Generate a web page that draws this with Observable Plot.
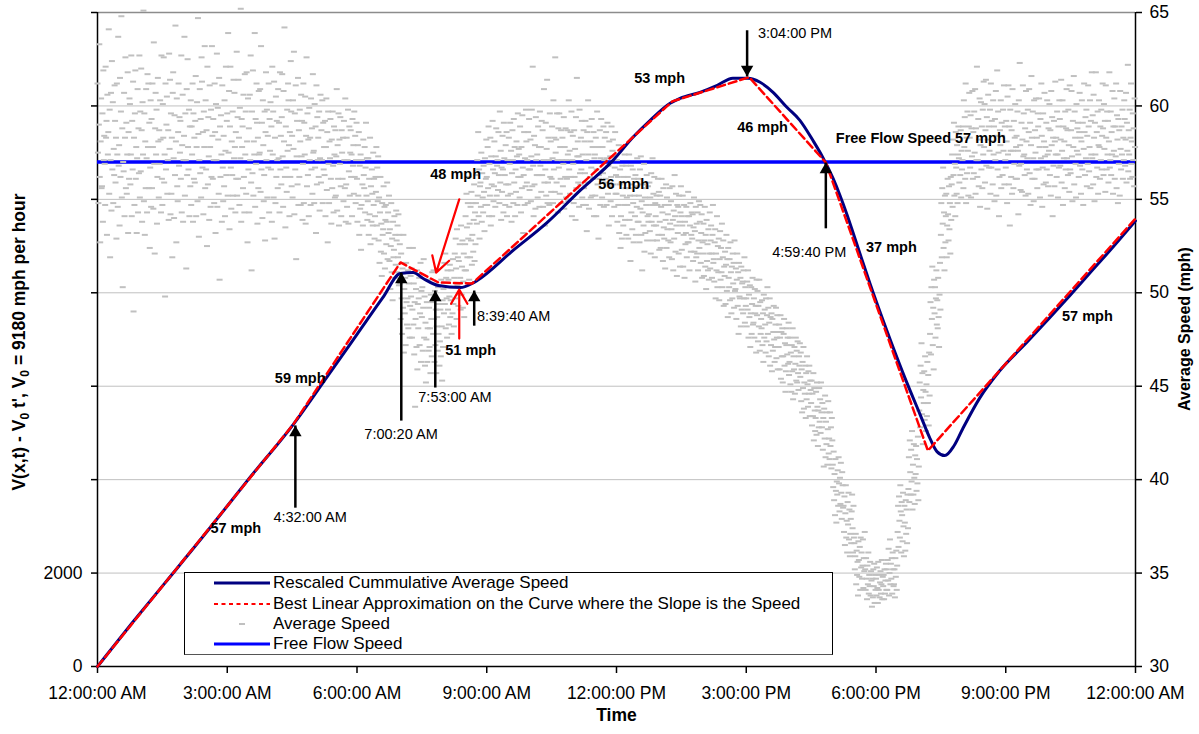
<!DOCTYPE html>
<html><head><meta charset="utf-8">
<script src="https://cdn.jsdelivr.net/npm/d3@7"></script>
<script src="https://cdn.jsdelivr.net/npm/@observablehq/plot@0.6"></script>
<style>
body{margin:0;background:#fff;font-family:"Liberation Sans",Arial,sans-serif;}
#wrap{position:relative;width:1199px;height:734px;overflow:hidden;}
#legend{position:absolute;left:184px;top:572px;width:647px;height:81px;border:1px solid #000;border-bottom-color:#555;background:#fff;}
.row{position:absolute;left:0;width:640px;height:20px;font-size:17px;line-height:20px;white-space:nowrap;}
.row svg{position:absolute;left:29px;top:0;}
.row span{position:absolute;left:88px;top:0;}
</style></head><body><div id="wrap"></div>
<script>
// ---------- data ----------
const hourTicks = [0, 3, 6, 9, 12, 15, 18, 21, 24];
const hourLabels = ["12:00:00 AM","3:00:00 AM","6:00:00 AM","9:00:00 AM","12:00:00 PM","3:00:00 PM","6:00:00 PM","9:00:00 PM","12:00:00 AM"];
const speedTicks = [30, 35, 40, 45, 50, 55, 60, 65];
const leftTickLabels = ["0", "2000", "", "", "", "", "", ""]; // rescaled V at each gridline (0..14000)
const freeFlowSpeed = 57;

// Rescaled cumulative average speed curve (hours, V - V0 t')
const cumT = [0,0.8,1.571,2.542,3.466,4.533,5.3,6.0,6.6,7.0,7.30,7.53,7.88,8.39,8.66,8.78,9.61,10.40,11.16,11.92,12.38,12.78,13.24,13.47,13.93,14.33,14.69,15.04,15.32,15.62,15.94,16.24,16.54,16.77,17.01,17.17,17.33,17.47,17.63,17.86,18.25,18.62,19.02,19.25,19.41,19.59,19.80,20.0,20.4,20.86,21.5,22.0,22.5,23.0,23.5,24.0];
const cumV = [0,930,1800,2900,3980,5190,6190,7110,7900,8412,8434,8306,8156,8113,8199,8263,8906,9506,10192,10835,11328,11692,12056,12163,12292,12442,12592,12592,12506,12292,11971,11692,11264,10899,10442,10078,9671,9285,8835,8199,7192,6292,5393,4879,4600,4515,4720,5080,5750,6330,6950,7450,7960,8480,9000,9540];

// Best linear approximation (breakpoints)
const fitT = [0, 4.533, 7.006, 7.883, 8.661, 13.29, 15.067, 16.84, 19.2, 24];
const fitV = [0, 5192, 8650, 8220, 8199, 12097, 12614, 10788, 4620, 9588];

// Average speed observations, 15-minute blocks (mph x10), first pass of readings
const speedBins = [
"612 575 548 590 633 562 527 581 604 556 557 596 538 619 571 584","586 641 553 598 519 571 607 544 624 566 602 548 577 563 611 592",
"579 536 615 562 597 648 551 588 503 570 565 607 541 583 626 556","601 558 574 627 541 592 566 613 490 583 547 596 619 561 578 532",
"565 620 587 538 602 574 651 549 596 531 581 556 609 572 543 617","593 556 612 578 545 634 569 521 588 607 574 598 537 562 615 581",
"547 601 583 626 559 574 498 612 566 590 605 553 571 587 539 628","618 572 540 595 563 643 581 527 604 557 549 586 612 568 594 575",
"584 637 552 596 571 513 609 563 625 578 566 598 541 589 557 603","559 592 616 541 578 602 549 647 585 530 571 609 564 593 551 626",
"603 566 587 525 621 558 594 573 539 611 578 546 598 562 632 584","571 628 546 599 582 553 615 507 589 562 595 574 538 611 567 549",
"596 552 639 575 608 534 589 621 567 545 581 563 597 552 614 572","561 614 583 547 599 572 652 538 593 578 589 556 606 562 543 617",
"588 543 606 571 627 559 512 597 564 619 552 581 574 639 546 593","575 609 554 632 566 591 540 603 579 549 563 597 528 586 618 571",
"602 566 589 538 621 574 597 551 613 529 583 548 605 562 592 571","558 594 617 573 546 608 581 642 562 535 589 567 554 598 576 612",
"584 551 603 577 629 542 596 566 611 518 573 592 558 615 547 587","569 612 548 591 574 605 537 584 626 557 596 563 582 541 599 571",
"576 548 601 567 589 532 611 558 594 571 583 562 597 544 572 606","563 592 541 578 604 555 586 527 597 569 548 581 572 593 561 537",
"587 552 573 609 544 579 561 596 536 582 569 594 557 541 587 575","558 583 546 571 598 537 565 589 552 575 587 562 574 541 593 568",
"561 538 579 552 586 531 568 545 574 523 547 571 558 536 582 563","549 572 531 561 542 583 526 557 538 566 553 536 575 547 561 529",
"528 551 516 543 562 522 537 509 548 531 534 557 521 546 513 539","517 534 502 525 548 511 529 496 538 519 523 541 508 531 515 544",
"505 486 521 497 478 513 492 531 468 502 489 508 472 516 495 483","498 513 476 491 524 483 505 467 495 439 486 502 471 512 459 494",
"487 503 469 492 518 476 498 461 484 452 475 495 463 481 507 469","495 478 512 486 463 501 472 491 457 482 487 469 503 478 494 461",
"502 489 516 494 521 481 508 497 476 512 491 507 483 498 515 487","508 521 497 529 513 486 534 504 519 493 517 499 526 508 491 536",
"526 541 512 553 535 519 548 529 562 507 537 519 546 528 554 515","548 563 537 571 552 586 541 566 529 557 559 546 575 538 564 551",
"562 547 578 556 589 541 569 552 583 536 573 558 541 592 566 549","571 555 586 563 548 597 559 576 539 567 554 584 566 543 591 572",
"558 583 546 569 591 553 576 538 564 587 571 548 593 559 578 541","574 551 589 562 543 578 556 595 567 532 563 586 547 572 557 598",
"566 582 549 573 598 557 621 568 541 584 558 579 545 594 571 563","578 554 592 563 587 546 571 609 559 536 566 591 552 577 614 548",
"561 589 572 548 603 566 583 554 626 575 582 559 596 571 543 588","583 557 569 594 545 578 562 588 551 571 561 587 574 549 603 566",
"569 548 587 562 577 539 594 556 615 573 581 559 573 546 598 564","556 581 564 592 547 571 533 586 559 603 574 545 589 562 581 551",
"574 552 583 541 566 597 558 578 529 563 561 587 547 572 593 556","561 586 547 572 591 553 568 536 581 557 573 549 562 589 541 576",
"553 571 538 562 547 579 532 558 566 524 541 559 529 568 552 536","547 562 529 556 574 539 552 517 568 543 558 534 566 548 527 561",
"561 538 552 527 566 545 573 531 549 512 543 558 536 569 522 551","542 559 533 551 521 564 538 547 572 528 553 536 562 519 548 541",
"538 552 524 546 561 531 543 517 556 535 529 547 513 539 558 524","527 549 534 518 557 539 512 544 529 563 541 522 553 536 509 547",
"541 523 536 552 514 531 547 508 538 526 532 546 519 541 527 554","529 542 517 535 551 522 533 506 546 519 537 521 543 512 528 549",
"521 537 509 528 546 514 531 502 539 517 526 512 534 507 521 543","518 506 527 534 497 521 512 541 503 525 511 529 496 518 533 507",
"509 522 494 515 531 501 518 487 524 508 503 518 496 527 511 489","502 513 486 507 521 493 511 478 516 498 497 508 482 514 491 505",
"497 482 506 491 512 476 499 487 504 471 489 503 478 494 508 483","488 501 474 493 482 507 469 495 478 486 481 496 472 489 463 499",
"478 492 466 484 497 461 487 472 489 458 486 469 479 493 475 463","471 483 459 476 488 454 479 466 481 452 466 478 486 461 473 447",
"463 476 451 468 447 472 458 481 443 466 459 471 446 462 476 453","455 468 442 459 436 463 449 471 438 452 446 461 433 457 443 466",
"441 453 429 446 434 457 421 449 437 426 433 447 424 452 439 418","428 441 416 433 407 438 422 445 412 431 419 436 408 427 442 414",
"408 396 415 389 403 381 411 394 377 399 392 405 386 412 398 383","386 372 391 365 382 397 369 378 361 388 376 393 368 384 359 371",
"366 352 359 371 344 362 349 356 338 367 357 348 364 341 369 353","352 341 358 347 336 354 344 361 339 349 343 356 338 351 346 332",
"347 338 353 342 334 356 341 349 337 345 351 339 344 357 336 348","352 341 357 346 363 338 350 368 344 355 347 358 339 361 352 343",
"372 386 364 391 378 369 397 383 361 388 381 367 393 375 359 386","395 412 388 421 404 392 416 399 426 384 408 392 419 401 387 413",
"437 452 428 461 444 473 435 457 419 448 441 458 432 466 447 426","478 495 467 503 486 514 472 492 459 507 489 503 476 497 512 483",
"531 548 519 556 537 567 524 543 512 552 527 541 553 519 536 561","558 574 546 582 563 591 552 569 541 586 567 553 579 548 574 589",
"571 589 556 603 578 594 561 612 548 583 564 597 576 552 589 607","586 564 597 575 609 553 588 571 621 562 571 593 557 582 604 546",
"578 601 559 587 614 568 594 545 582 606 589 567 576 598 553 612","593 571 608 552 584 619 566 597 575 541 562 587 579 603 556 591",
"567 592 581 548 605 574 611 558 589 536 598 576 562 587 553 609","584 561 597 576 542 603 568 623 579 555 569 591 554 582 611 573",
"572 598 553 586 609 564 591 547 579 616 583 561 597 572 549 603","589 566 604 578 551 593 572 612 584 546 567 596 558 581 607 573",
"576 601 563 587 552 608 579 594 541 583 568 592 557 581 613 574","593 568 582 614 559 576 603 547 589 572 581 556 597 566 588 609",
"564 587 608 573 549 592 578 616 558 597 583 569 551 601 576 588","581 603 566 591 547 577 612 586 563 594 572 598 557 584 569 611",
"572 595 558 606 583 549 591 574 618 562 586 567 597 553 579 603","588 563 601 577 592 554 611 583 566 597 574 592 559 581 618 567",
"576 604 561 589 573 612 556 595 582 548 593 569 587 552 608 577","593 568 582 607 559 591 576 622 565 587 574 598 561 583 612 569"
];
// second pass of readings for the same 15-minute blocks (mph x10)
const speedBins2 = [
"569 547 621 583 592 531 606 574","559 583 529 612 574 546 637 568","591 553 574 618 532 586 561 604","572 609 543 588 564 627 551 597",
"578 612 556 591 524 567 603 546","551 587 569 603 582 543 627 561","577 614 542 596 553 583 519 607","592 561 627 543 579 606 538 571",
"547 589 574 612 538 596 561 583","613 567 586 542 597 578 632 556","561 593 571 548 612 586 532 601","584 557 603 541 576 621 563 592",
"607 578 543 586 561 629 552 594","574 597 553 618 581 527 604 566","569 612 591 537 583 556 608 574","598 551 584 567 612 543 593 576",
"556 609 572 591 543 618 566 584","603 579 541 586 562 624 597 557","562 598 581 547 606 573 592 539","583 547 604 566 588 553 617 575",
"559 587 571 603 548 591 566 578","582 556 597 568 543 589 574 551","561 583 549 592 571 556 604 538","579 553 597 562 584 548 571 591",
"556 578 543 567 591 552 572 539","541 562 554 578 536 567 549 573","547 526 538 559 518 543 532 552","528 511 536 519 542 504 531 526",
"497 512 481 505 524 476 493 509","481 497 508 472 489 516 463 501","492 471 481 457 499 486 466 511","474 491 466 507 482 453 496 471",
"496 512 478 503 489 518 494 482","499 514 528 492 506 521 487 512","531 548 522 539 558 517 543 526","543 568 554 533 572 547 561 582",
"557 581 564 546 573 588 552 568","563 547 579 558 586 541 571 552","566 554 581 573 547 596 562 577","581 559 571 548 586 566 593 555",
"574 551 589 563 578 546 597 568","559 583 571 547 596 562 581 554","567 596 553 578 561 587 548 571","576 553 586 562 597 541 571 584",
"558 583 566 592 551 574 547 587","567 593 552 578 561 586 541 572","551 578 564 589 546 571 583 559","582 558 573 546 567 586 553 563",
"562 547 574 539 556 568 531 551","552 541 563 531 557 546 572 538","532 556 547 563 528 541 557 538","536 552 528 547 561 531 554 523",
"551 534 542 528 547 519 556 537","532 546 521 552 538 514 543 557","527 541 512 536 548 522 531 543","524 538 547 516 532 542 508 527",
"513 528 536 521 508 531 547 516","524 511 537 503 519 528 493 514","514 497 521 505 516 492 528 501","506 489 512 497 519 484 503 493",
"484 497 476 502 489 493 468 507","476 491 483 468 497 474 488 503","471 483 492 465 476 488 459 479","458 472 481 467 476 462 484 456",
"469 452 474 457 448 466 461 473","451 439 458 446 461 434 453 448","437 428 449 431 443 425 452 436","422 411 436 418 428 406 433 421",
"401 387 409 393 379 404 397 385","379 366 383 392 374 361 386 369","361 347 354 368 342 358 351 372","347 337 352 343 355 334 349 341",
"343 349 336 352 339 346 355 341","344 352 337 358 348 362 341 354","377 362 389 371 384 366 392 374","403 418 394 411 398 423 389 407",
"451 434 463 441 456 429 468 445","496 481 508 487 471 499 516 491","542 528 557 534 548 521 562 539","572 559 581 563 587 551 576 566",
"583 567 595 551 588 573 608 561","579 602 566 589 556 598 574 613","567 592 581 558 603 574 589 549","584 563 598 576 611 558 589 571",
"576 556 592 569 583 601 561 578","596 574 563 588 552 608 581 566","561 587 575 604 566 583 556 596","578 559 591 566 603 574 557 588",
"583 562 597 574 551 589 567 603","572 587 563 598 579 554 611 566","591 574 562 586 607 568 583 553","589 565 578 603 556 592 574 618",
"578 561 589 571 598 566 584 612","571 597 563 586 574 608 553 589","566 589 574 598 561 583 571 603","581 562 596 571 588 557 604 578"
];
const binHours = 0.25;

// Annotations
const arrowTimes = [4.575, 7.024, 7.81, 8.71, 15.02, 16.84];
const arrowTips  = [42.9, 51.08, 50.12, 50.12, 61.58, 56.97];
const arrowTails = [38.5, 43.16, 44.93, 48.24, 64.05, 53.45];
const timeLabels = ["4:32:00 AM","7:00:20 AM","7:53:00 AM","8:39:40 AM","3:04:00 PM","4:59:40 PM"];
const timeLabelT = [4.067, 6.17, 7.417, 8.773, 15.27, 15.6];
const timeLabelS = [37.97, 42.45, 44.41, 48.73, 63.87, 52.16];
const redArrowFromT = [8.364, 8.364], redArrowFromS = [55.0, 47.55];
const redArrowToT = [7.83, 8.364], redArrowToS = [51.08, 50.17];
const mphLabels = ["57 mph","59 mph","48 mph","51 mph","56 mph","53 mph","46 mph","37 mph","57 mph","Free Flow Speed 57 mph"];
const mphLabelT = [2.61, 4.1, 7.694, 8.04, 11.58, 12.41, 14.79, 17.77, 22.3, 17.07];
const mphLabelS = [37.38, 45.41, 56.34, 46.9, 55.8, 61.5, 58.87, 52.44, 48.73, 58.25];
const legendItems = ["Rescaled Cummulative Average Speed","Best Linear Approximation on the Curve where the Slope is the Speed","Average Speed","Free Flow Speed"];

// ---------- build ----------
const toSpeed = v => 30 + v / 400; // left axis 0..14000 maps onto 30..65 mph
const cum = cumT.map((t, i) => ({t, s: toSpeed(cumV[i])}));
const fit = fitT.map((t, i) => ({t, s: toSpeed(fitV[i])}));
const obs = speedBins.flatMap((row, i) => {
  const vals = (row + " " + speedBins2[i]).split(" ").map(Number);
  return vals.map((v, j) => ({t: i * binHours + j * binHours / vals.length, s: v / 10}));
});
const arrows = arrowTimes.map((t, i) => ({t, tip: arrowTips[i], tail: arrowTails[i], up: arrowTips[i] > arrowTails[i]}));
const tlabels = timeLabels.map((text, i) => ({text, t: timeLabelT[i], s: timeLabelS[i]}));
const mlabels = mphLabels.map((text, i) => ({text, t: mphLabelT[i], s: mphLabelS[i]}));
const reds = redArrowFromT.map((t, i) => ({x1: t, y1: redArrowFromS[i], x2: redArrowToT[i], y2: redArrowToS[i]}));
const leftMap = new Map(speedTicks.map((d, i) => [d, leftTickLabels[i]]));
const hourMap = new Map(hourTicks.map((d, i) => [d, hourLabels[i]]));
const dash = {draw(ctx) { ctx.rect(-3, -1, 6, 2); }};
const R = 4.6, tipOff = 1.555 * R;

const chart = Plot.plot({
  width: 1199, height: 734,
  marginLeft: 97, marginRight: 64, marginTop: 12, marginBottom: 68,
  style: {fontFamily: '"Liberation Sans", Arial, sans-serif', background: "#fff"},
  x: {domain: [0, 24]},
  y: {domain: [30, 65]},
  marks: [
    Plot.gridY(speedTicks.slice(1, -1), {stroke: "#c0c0c0", strokeOpacity: 1}),
    Plot.ruleY([65], {stroke: "#8c8c8c", strokeWidth: 1.5}),
    Plot.axisX(hourTicks, {tickFormat: d => hourMap.get(d), tickSize: 7, tickPadding: 13, fontSize: 17.5, label: null, strokeWidth: 1.5}),
    Plot.axisY(speedTicks, {anchor: "right", tickSize: 6, tickPadding: 8, fontSize: 17.5, label: null, strokeWidth: 1.5}),
    Plot.axisY(speedTicks, {anchor: "left", tickFormat: d => leftMap.get(d), tickSize: 6, tickPadding: 9, fontSize: 17.5, label: null, strokeWidth: 1.5}),
    Plot.ruleX([0, 24], {stroke: "#000", strokeWidth: 1.5}),
    Plot.ruleY([30], {stroke: "#000", strokeWidth: 1.5}),
    Plot.ruleY([freeFlowSpeed], {stroke: "#0000ff", strokeWidth: 3.5}),
    Plot.dot(obs, {x: "t", y: "s", symbol: dash, fill: "#c0c0c0", stroke: null}),
    Plot.line(cum, {x: "t", y: "s", stroke: "#000080", strokeWidth: 3, curve: "monotone-x"}),
    Plot.line(fit, {x: "t", y: "s", stroke: "#ff0000", strokeWidth: 2.5, strokeDasharray: "8,4"}),
    Plot.link(arrows, {x1: "t", x2: "t", y1: "tail", y2: "tip", stroke: "#000", strokeWidth: 2.5}),
    Plot.dot(arrows.filter(d => d.up), {x: "t", y: "tip", symbol: "triangle", r: R, fill: "#000", stroke: null, dy: tipOff}),
    Plot.dot(arrows.filter(d => !d.up), {x: "t", y: "tip", symbol: "triangle", r: R, fill: "#000", stroke: null, dy: -tipOff, rotate: 180}),
    Plot.arrow(reds, {x1: "x1", y1: "y1", x2: "x2", y2: "y2", stroke: "#ff0000", strokeWidth: 2.2, headLength: 12}),
    Plot.text(tlabels, {x: "t", y: "s", text: "text", textAnchor: "start", fontSize: 14.5, fill: "#000"}),
    Plot.text(mlabels, {x: "t", y: "s", text: "text", textAnchor: "start", fontSize: 14.5, fontWeight: "bold", fill: "#000"}),
    Plot.text(["Time"], {frameAnchor: "bottom", dy: 54, fontSize: 17.5, fontWeight: "bold", fill: "#000"})
  ]
});

const svg = d3.select(chart);
const lt = svg.append("text").attr("transform", "translate(25,342) rotate(-90)")
  .attr("text-anchor", "middle").attr("font-weight", "bold").attr("font-size", 17.5).attr("fill", "#000");
lt.append("tspan").text("V(x,t) - V");
lt.append("tspan").attr("font-size", 12).attr("dy", 4).text("0");
lt.append("tspan").attr("dy", -4).text(" t', V");
lt.append("tspan").attr("font-size", 12).attr("dy", 4).text("0");
lt.append("tspan").attr("dy", -4).text(" = 9180 mph per hour");
svg.append("text").attr("transform", "translate(1190,329) rotate(-90)")
  .attr("text-anchor", "middle").attr("font-weight", "bold").attr("font-size", 16).attr("fill", "#000")
  .text("Average Speed (mph)");

const wrap = document.getElementById("wrap");
wrap.appendChild(chart);

// legend
const legend = document.createElement("div");
legend.id = "legend";
const samples = [
  '<line x1="0" y1="10" x2="56" y2="10" stroke="#000080" stroke-width="3"/>',
  '<line x1="0" y1="10" x2="56" y2="10" stroke="#ff0000" stroke-width="2" stroke-dasharray="4,3.5"/>',
  '<rect x="25" y="9" width="6" height="2" fill="#c0c0c0"/>',
  '<line x1="0" y1="10" x2="56" y2="10" stroke="#0000ff" stroke-width="3"/>'
];
const rowTops = [0, 21, 41, 61];
legendItems.forEach((txt, i) => {
  const r = document.createElement("div");
  r.className = "row";
  r.style.top = rowTops[i] + "px";
  r.innerHTML = '<svg width="56" height="20">' + samples[i] + '</svg>';
  const sp = document.createElement("span");
  sp.textContent = txt;
  r.appendChild(sp);
  legend.appendChild(r);
});
wrap.appendChild(legend);
</script></body></html>
